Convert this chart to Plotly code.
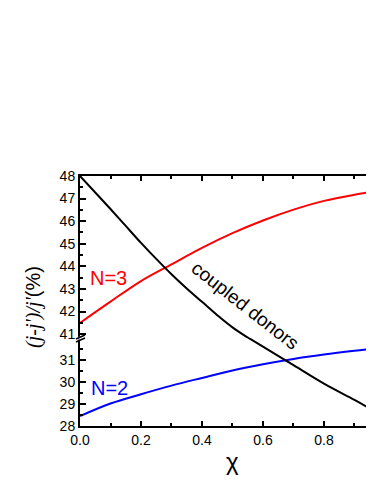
import plotly.graph_objects as go

# ---- data ----
chi = [0, 0.1, 0.2, 0.3, 0.4, 0.5, 0.6, 0.7, 0.8, 0.9, 0.965]
n3 = [41.5, 42.44, 43.35, 44.09, 44.82, 45.47, 46.03, 46.51, 46.90, 47.17, 47.31]
n2 = [28.45, 29.02, 29.44, 29.83, 30.18, 30.52, 30.80, 31.04, 31.24, 31.41, 31.51]
chi_cd_top = [0, 0.05, 0.1, 0.15, 0.2, 0.25, 0.3, 0.35, 0.4, 0.45, 0.5, 0.56]
cd_top = [48.0, 47.27, 46.54, 45.79, 45.04, 44.33, 43.65, 43.02, 42.43, 41.84, 41.30, 40.76]
chi_cd_bot = [0.54, 0.6, 0.7, 0.8, 0.9, 0.965]
cd_bot = [32.1, 31.6, 30.76, 29.92, 29.18, 28.68]

FONT = "Liberation Sans, Arial, sans-serif"

fig = go.Figure()
fig.add_trace(go.Scatter(x=chi, y=n3, mode="lines", line=dict(color="#ff0000", width=2, shape="spline"),
                         xaxis="x2", yaxis="y2", showlegend=False))
fig.add_trace(go.Scatter(x=chi_cd_top, y=cd_top, mode="lines", line=dict(color="black", width=2, shape="spline"),
                         xaxis="x2", yaxis="y2", showlegend=False))
fig.add_trace(go.Scatter(x=chi, y=n2, mode="lines", line=dict(color="#0000ff", width=2, shape="spline"),
                         xaxis="x", yaxis="y", showlegend=False))
fig.add_trace(go.Scatter(x=chi_cd_bot, y=cd_bot, mode="lines", line=dict(color="black", width=2, shape="spline"),
                         xaxis="x", yaxis="y", showlegend=False))

axis_common = dict(showgrid=False, zeroline=False, showline=True, linecolor="black", linewidth=2,
                   ticks="inside", ticklen=5, tickwidth=1.5, tickcolor="black", automargin=False,
                   tickfont=dict(family=FONT, size=14, color="black"))

fig.update_layout(
    width=366, height=476,
    margin=dict(l=72, r=0, t=168, b=58),
    paper_bgcolor="white", plot_bgcolor="white",
    xaxis=dict(axis_common, range=[0, 0.964], anchor="y", dtick=0.2, tick0=0, tickformat=".1f",
               minor=dict(ticks="inside", ticklen=3, dtick=0.1, tickcolor="black", tickwidth=1.5)),
    xaxis2=dict(axis_common, range=[0, 0.964], anchor="y2", side="top", matches="x",
                showticklabels=False, dtick=0.2, tick0=0,
                minor=dict(ticks="inside", ticklen=3, dtick=0.1, tickcolor="black", tickwidth=1.5)),
    yaxis=dict(axis_common, domain=[0, 0.352], range=[28, 31.99], dtick=1, tick0=28, ticklen=6,
               minor=dict(ticks="inside", ticklen=3, dtick=0.5, tickcolor="black", tickwidth=1.5)),
    yaxis2=dict(axis_common, domain=[0.352, 1], range=[40.83, 48], dtick=1, tick0=41, ticklen=6,
                minor=dict(ticks="inside", ticklen=3, dtick=0.5, tickcolor="black", tickwidth=1.5)),
)

fig.add_annotation(x=0.092, y=43.49, xref="x2", yref="y2", text="N=3", showarrow=False,
                   font=dict(family=FONT, size=20, color="#ff0000"))
fig.add_annotation(x=0.098, y=29.73, xref="x", yref="y", text="N=2", showarrow=False,
                   font=dict(family=FONT, size=20, color="#0000ff"))
fig.add_annotation(x=0.541, y=42.25, xref="x2", yref="y2", text="coupled donors", showarrow=False,
                   textangle=38, font=dict(family=FONT, size=19, color="black"))
fig.add_annotation(x=0.52, y=-0.14, xref="paper", yref="paper", text="χ", showarrow=False,
                   xanchor="center", yanchor="middle",
                   font=dict(family=FONT, size=24, color="black"))
fig.add_annotation(x=-0.16, y=0.476, xref="paper", yref="paper", textangle=-90, showarrow=False,
                   xanchor="center", yanchor="middle",
                   text="<span style='font-family:Liberation Serif, Times New Roman, serif'><i>(j-j')/j'</i></span>(%)",
                   font=dict(family=FONT, size=20, color="black"))

# axis break marks
fig.add_shape(type="rect", xref="paper", yref="paper", x0=-0.006, x1=0.006, y0=0.345, y1=0.357,
              fillcolor="white", line=dict(width=0), layer="above")
fig.add_shape(type="line", xref="paper", yref="paper", x0=-0.0136, y0=0.348, x1=0.017, y1=0.364,
              line=dict(color="black", width=1.5), layer="above")
fig.add_shape(type="line", xref="paper", yref="paper", x0=-0.0136, y0=0.336, x1=0.017, y1=0.352,
              line=dict(color="black", width=1.5), layer="above")

fig.write_html("out.html")
